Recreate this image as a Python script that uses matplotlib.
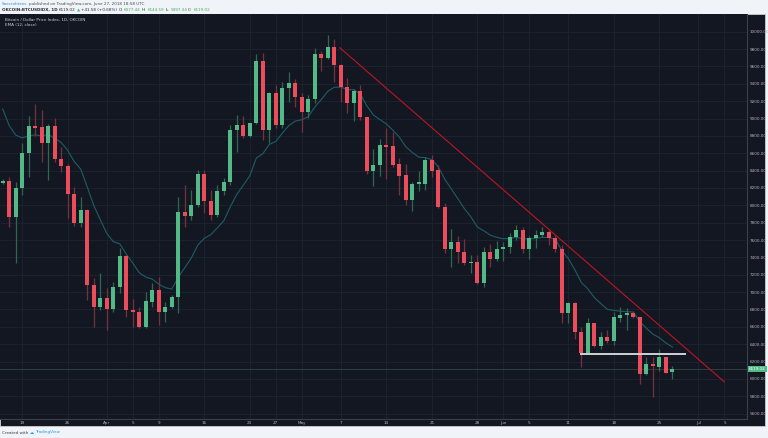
import numpy as np
import pandas as pd
import matplotlib
matplotlib.use('Agg')
import matplotlib.pyplot as plt
import matplotlib.dates as mdates
from matplotlib.patches import Rectangle

# ----------------------------------------------------------------------
# Daily OHLC, OKCOIN BTCUSD index, 16 Mar - 27 Jun 2018
# ----------------------------------------------------------------------
dates = pd.date_range('2018-03-16', '2018-06-27', freq='D')

opens = [8262, 8284, 7869, 8203, 8599, 8910, 8899, 8714, 8917, 8530,
         8453, 8134, 7793, 7946, 7082, 6832, 6929, 6809, 7055, 7416,
         6794, 6767, 6602, 6890, 7024, 6771, 6832, 6940, 7919, 7880,
         8004, 8361, 8053, 7888, 8168, 8272, 8868, 8925, 8802, 8945,
         9662, 8868, 9297, 8925, 9348, 9406, 9251, 9071, 9221, 9743,
         9697, 9827, 9620, 9366, 9182, 9313, 9014, 8399, 8468, 8691,
         8680, 8476, 8349, 8061, 8246, 8246, 8522, 8407, 7984, 7500,
         7581, 7462, 7332, 7347, 7102, 7466, 7382, 7493, 7516, 7638,
         7716, 7493, 7620, 7658, 7689, 7620, 7493, 6763, 6878, 6544,
         6295, 6641, 6383, 6486, 6440, 6705, 6733, 6763, 6717, 6053,
         6168, 6141, 6249, 6077.44]
highs = [8300, 8330, 8272, 8714, 9029, 9167, 9098, 8937, 9009, 8675,
         8476, 8214, 8099, 7960, 7159, 7217, 7047, 7120, 7505, 7430,
         6917, 6832, 7005, 7102, 7178, 6890, 6967, 8099, 8234, 8176,
         8407, 8407, 8176, 8234, 8311, 8925, 9040, 9029, 8952, 9743,
         9758, 9310, 9386, 9424, 9539, 9452, 9290, 9271, 9809, 9781,
         9962, 9912, 9624, 9463, 9336, 9386, 9021, 8645, 8764, 8887,
         8848, 8542, 8476, 8272, 8399, 8560, 8580, 8464, 8030, 7724,
         7646, 7608, 7428, 7428, 7523, 7554, 7592, 7581, 7678, 7773,
         7754, 7646, 7716, 7747, 7716, 7658, 7543, 6890, 6890, 6602,
         6698, 6648, 6544, 6564, 6774, 6825, 6814, 6782, 6717, 6249,
         6256, 6341, 6256, 6144.59]
lows = [8240, 7754, 7332, 8119, 8330, 8798, 8502, 8292, 8499, 8387,
        7850, 7762, 7750, 6909, 6602, 6794, 6564, 6774, 6990, 6710,
        6602, 6583, 6590, 6832, 6621, 6659, 6814, 6763, 7754, 7831,
        7984, 7908, 7831, 7870, 8119, 8234, 8618, 8772, 8783, 8937,
        8752, 8714, 8887, 8887, 9194, 9136, 8848, 9002, 9175, 9551,
        9682, 9424, 9194, 9060, 8975, 8983, 8361, 8222, 8341, 8300,
        8445, 8119, 8004, 7938, 8165, 8176, 8323, 7966, 7454, 7286,
        7339, 7313, 7217, 7093, 7055, 7286, 7362, 7362, 7454, 7600,
        7454, 7378, 7505, 7638, 7543, 7466, 6648, 6648, 6456, 6134,
        6287, 6371, 6341, 6410, 6391, 6659, 6564, 6698, 5938, 6045,
        5788, 6095, 6065, 5997.34]
closes = [8280, 7869, 8203, 8606, 8910, 8894, 8714, 8917, 8530, 8453,
          8134, 7793, 7946, 7082, 6832, 6929, 6809, 7055, 7416, 6794,
          6767, 6602, 6898, 7024, 6771, 6832, 6947, 7919, 7880, 8007,
          8361, 8053, 7888, 8168, 8272, 8868, 8925, 8802, 8945, 9662,
          8868, 9297, 8925, 9348, 9406, 9251, 9071, 9221, 9743, 9697,
          9827, 9620, 9366, 9182, 9313, 9014, 8399, 8468, 8691, 8668,
          8468, 8341, 8061, 8246, 8258, 8522, 8399, 7984, 7500, 7581,
          7462, 7332, 7347, 7102, 7466, 7382, 7493, 7523, 7638, 7716,
          7493, 7620, 7658, 7689, 7620, 7493, 6763, 6878, 6544, 6295,
          6641, 6383, 6486, 6440, 6717, 6736, 6763, 6717, 6053, 6168,
          6145, 6249, 6072, 6119.02]

ema_prev = 9260          # EMA(12) just before the first visible bar
last_price = 6119.02

# drawn objects
trend_start = ('2018-05-06 20:00', 9816)
trend_end = ('2018-07-05 00:00', 5965)
support_level = 6284
support_from, support_to = '2018-06-13 00:00', '2018-06-29 00:00'

tick_dates = ['2018-03-19', '2018-03-26', '2018-04-01', '2018-04-05', '2018-04-09',
              '2018-04-16', '2018-04-23', '2018-04-27', '2018-05-01', '2018-05-07',
              '2018-05-14', '2018-05-21', '2018-05-28', '2018-06-01', '2018-06-05',
              '2018-06-11', '2018-06-18', '2018-06-25', '2018-07-01', '2018-07-05']
tick_labels = ['19', '26', 'Apr', '5', '9', '16', '23', '27', 'May', '7',
               '14', '21', '28', 'Jun', '5', '11', '18', '25', 'Jul', '5']
price_ticks = np.arange(5600, 10001, 200)

# ----------------------------------------------------------------------
W, H = 768, 438
BG = '#131722'
UP, DOWN = '#53b987', '#eb4d5c'
UP_WICK, DOWN_WICK = '#32674f', '#74323d'
TXT = '#b2b5be'

fig = plt.figure(figsize=(W / 100, H / 100), dpi=100, facecolor='#f0f3f7')
fig.patches.append(Rectangle((0, 1 - 425.5 / H), 765 / W, (425.5 - 13.5) / H,
                             transform=fig.transFigure, facecolor=BG,
                             edgecolor='#c9ccd3', lw=0.6, zorder=-5))

ax = fig.add_axes([0, 1 - 419 / H, 746.7 / W, (419 - 14) / H])
ax.set_zorder(2)
ax.set_facecolor(BG)

x = mdates.date2num(dates)
o, h, l, c = map(np.array, (opens, highs, lows, closes))
up = c >= o

ax.vlines(x, l, h, colors=np.where(up, UP_WICK, DOWN_WICK), lw=0.9, zorder=3)
body_bottom = np.minimum(o, c)
body_h = np.maximum(np.abs(c - o), 18)
ax.bar(x, body_h, bottom=body_bottom, width=0.62,
       color=np.where(up, UP, DOWN), linewidth=0, zorder=4)

# EMA (12, close)
ema = pd.Series([ema_prev] + closes).ewm(span=12, adjust=False).mean().values[1:]
ax.plot(x, ema, color='#1d5d66', lw=0.8, zorder=2)

# last price line
ax.axhline(last_price, color='#34463f', lw=0.6, zorder=1)

# trend line and support line
tx = mdates.date2num(pd.to_datetime([trend_start[0], trend_end[0]]))
ax.plot(tx, [trend_start[1], trend_end[1]], color='#bd1620', lw=0.8, zorder=5)
sx = mdates.date2num(pd.to_datetime([support_from, support_to]))
ax.plot(sx, [support_level, support_level], color='#cfd1d6', lw=1.4, zorder=5)

# axes
ax.set_xlim(mdates.date2num(pd.Timestamp('2018-03-15 14:00')),
            mdates.date2num(pd.Timestamp('2018-07-08 10:00')))
ax.set_ylim(5538, 10204)
ax.set_xticks(mdates.date2num(pd.to_datetime(tick_dates)))
ax.set_xticklabels(tick_labels)
ax.set_yticks(price_ticks)
ax.set_yticklabels([f'{p:.2f}' for p in price_ticks])
ax.yaxis.tick_right()
ax.tick_params(axis='both', length=0, labelsize=3.0, colors=TXT)
ax.tick_params(axis='y', pad=2.0)
ax.tick_params(axis='x', pad=1.2)
ax.grid(True, color='#1e2332', lw=0.6, zorder=0)
ax.set_axisbelow(True)
for side in ['top', 'left']:
    ax.spines[side].set_visible(False)
for side in ['right', 'bottom']:
    ax.spines[side].set_color('#3a3f4e')
    ax.spines[side].set_linewidth(0.8)

# last price tag
ax.annotate(f'{last_price:.2f}', xy=(1, last_price), xycoords=('axes fraction', 'data'),
            xytext=(1.6, 0), textcoords='offset points', ha='left', va='center',
            fontsize=3.0, color='white',
            bbox=dict(boxstyle='square,pad=0.25', facecolor=UP, edgecolor='none'))

# ----------------------------------------------------------------------
# header / legend / footer texts
# ----------------------------------------------------------------------
renderer = fig.canvas.get_renderer()


def seq_text(x_px, y_px, parts, size):
    xp = x_px
    for s, color, weight in parts:
        t = fig.text(xp / W, 1 - y_px / H, s, color=color, fontsize=size,
                     fontweight=weight, ha='left', va='center')
        xp += t.get_window_extent(renderer).width + 1.2


seq_text(2, 4, [('Saecrohtees', '#2196f3', 'normal'),
                ('published on TradingView.com, June 27, 2018 18:58 UTC', '#4a4d55', 'normal')], 3.0)
seq_text(2, 10, [('OKCOIN:BTCUSDIDX, 1D', '#2a2e39', 'bold'),
                 ('6119.02', '#2a2e39', 'normal'),
                 ('\u25b2', '#53b987', 'normal'),
                 ('+41.58 (+0.68%)', '#2a2e39', 'normal'),
                 ('O:', '#2a2e39', 'normal'), ('6077.44', '#41b35d', 'normal'),
                 ('H:', '#2a2e39', 'normal'), ('6144.59', '#41b35d', 'normal'),
                 ('L:', '#2a2e39', 'normal'), ('5997.34', '#41b35d', 'normal'),
                 ('C:', '#2a2e39', 'normal'), ('6119.02', '#41b35d', 'normal')], 3.0)

fig.text(5 / W, 1 - 20 / H, 'Bitcoin / Dollar Price Index, 1D, OKCOIN',
         color='#c8cbd2', fontsize=3.0, ha='left', va='center', zorder=10)
fig.text(5 / W, 1 - 25.5 / H, 'EMA (12, close)',
         color='#c8cbd2', fontsize=3.0, ha='left', va='center', zorder=10)

seq_text(2, 432.5, [('Created with', '#3c3f47', 'normal'),
                    ('\u2601', '#2196f3', 'normal'),
                    ('TradingView', '#2196f3', 'normal')], 3.0)

fig.savefig('out.png', dpi=100, facecolor=fig.get_facecolor())
